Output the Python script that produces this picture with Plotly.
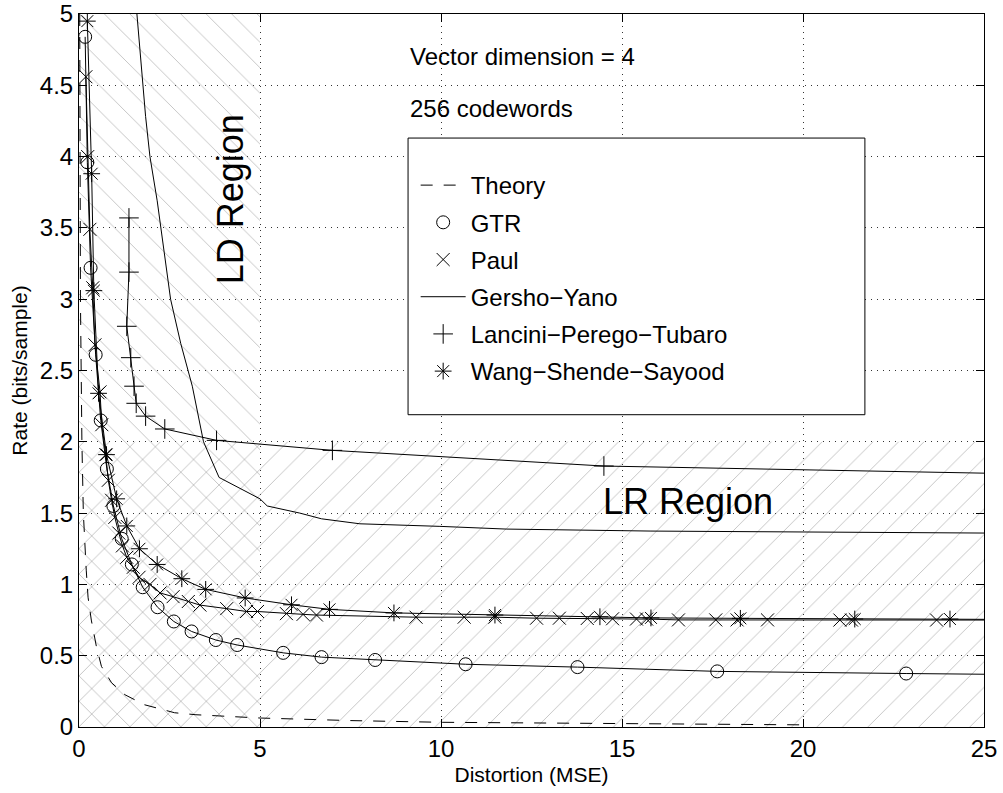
import plotly.graph_objects as go

# ---------------- data ----------------
theory_d = [0.02, 0.04, 0.08, 0.12, 0.20, 0.25, 0.34, 0.48, 0.62, 0.90, 1.27, 1.81, 2.64, 3.23, 5.0, 7.5, 10.0, 15.0, 20.0]
theory_r = [5.0, 3.0, 2.0, 1.5, 1.1, 0.91, 0.75, 0.565, 0.425, 0.31, 0.226, 0.156, 0.10, 0.086, 0.063, 0.045, 0.033, 0.022, 0.015]

gtr_d = [0.17, 0.23, 0.32, 0.46, 0.60, 0.77, 0.95, 1.18, 1.46, 1.76, 2.17, 2.62, 3.11, 3.78, 4.37, 5.64, 6.70, 8.18, 10.68, 13.77, 17.63, 22.85]
gtr_r = [4.84, 3.96, 3.22, 2.61, 2.15, 1.81, 1.55, 1.32, 1.14, 0.98, 0.84, 0.74, 0.67, 0.61, 0.575, 0.52, 0.49, 0.47, 0.44, 0.42, 0.39, 0.375]
gtr_line_end = (25.0, 0.37)

paul_d = [0.19, 0.24, 0.30, 0.38, 0.44, 0.58, 0.63, 0.74, 0.81, 0.90, 0.99, 1.10, 1.20, 1.32, 1.50, 1.66, 1.96, 2.24, 2.60, 3.02, 3.34, 4.08, 4.63, 4.93, 5.73, 6.19, 6.56, 9.31, 10.64, 11.49, 12.64, 13.27, 14.04, 14.74, 15.40, 15.68, 16.56, 17.59, 18.18, 19.02, 21.02, 21.34, 23.69]
paul_r = [4.56, 4.00, 3.49, 3.08, 2.68, 2.35, 2.12, 1.91, 1.73, 1.59, 1.47, 1.36, 1.27, 1.19, 1.12, 1.05, 1.00, 0.94, 0.914, 0.88, 0.855, 0.83, 0.81, 0.81, 0.795, 0.79, 0.785, 0.77, 0.77, 0.77, 0.763, 0.763, 0.761, 0.759, 0.757, 0.757, 0.751, 0.751, 0.751, 0.751, 0.750, 0.750, 0.750]
paul_line_end = (25.0, 0.75)

gy_d = [1.60, 1.84, 1.96, 2.16, 2.53, 2.81, 3.13, 3.44, 3.87, 5.0, 5.2, 6.1, 6.7, 7.76, 9.97, 11.8, 15.8, 25.0]
gy_r = [5.0, 4.28, 4.0, 3.69, 3.0, 2.69, 2.39, 2.0, 1.75, 1.60, 1.55, 1.50, 1.46, 1.425, 1.407, 1.388, 1.374, 1.36]

lpt_d = [1.38, 1.38, 1.32, 1.43, 1.52, 1.58, 1.84, 2.37, 3.80, 7.0, 14.5]
lpt_r = [3.57, 3.19, 2.81, 2.59, 2.39, 2.27, 2.18, 2.09, 2.01, 1.94, 1.83]
lpt_line_end = (25.0, 1.78)

wss_d = [0.23, 0.35, 0.41, 0.54, 0.76, 1.04, 1.32, 1.67, 2.16, 2.84, 3.50, 4.59, 5.87, 6.92, 8.70, 11.49, 14.39, 15.80, 18.27, 21.43, 24.06]
wss_r = [4.95, 3.88, 3.06, 2.34, 1.91, 1.60, 1.41, 1.25, 1.14, 1.04, 0.965, 0.905, 0.857, 0.825, 0.80, 0.785, 0.773, 0.765, 0.762, 0.757, 0.757]
wss_line_end = (25.0, 0.755)

# region boundaries
LD_DISTORTION_MAX = 5.0
LR_RATE_MAX = 2.0
X_MAX = 25.0
Y_MAX = 5.0

x_ticks = [0, 5, 10, 15, 20, 25]
y_ticks = [0, 0.5, 1, 1.5, 2, 2.5, 3, 3.5, 4, 4.5, 5]
y_tick_text = ["0", "0.5", "1", "1.5", "2", "2.5", "3", "3.5", "4", "4.5", "5"]

FONT = "Liberation Sans, Arial, Helvetica, sans-serif"
HATCH = "#808080"
HATCH_SIZE = 18.0

fig = go.Figure()

# hatched regions
fig.add_trace(go.Scatter(
    x=[0, LD_DISTORTION_MAX, LD_DISTORTION_MAX, 0, 0],
    y=[0, 0, Y_MAX, Y_MAX, 0],
    mode="none", fill="toself", fillcolor="rgba(0,0,0,0)",
    fillpattern=dict(shape="\\", size=HATCH_SIZE, solidity=0.05, fgcolor=HATCH,
                     bgcolor="rgba(0,0,0,0)"),
    showlegend=False, hoverinfo="skip"))
fig.add_trace(go.Scatter(
    x=[0, X_MAX, X_MAX, 0, 0],
    y=[0, 0, LR_RATE_MAX, LR_RATE_MAX, 0],
    mode="none", fill="toself", fillcolor="rgba(0,0,0,0)",
    fillpattern=dict(shape="/", size=HATCH_SIZE, solidity=0.05, fgcolor=HATCH,
                     bgcolor="rgba(0,0,0,0)"),
    showlegend=False, hoverinfo="skip"))

LINE = dict(color="black", width=1)

# connecting lines (no legend)
fig.add_trace(go.Scatter(x=gtr_d + [gtr_line_end[0]], y=gtr_r + [gtr_line_end[1]],
                         mode="lines", line=LINE, showlegend=False, hoverinfo="skip"))
fig.add_trace(go.Scatter(x=paul_d + [paul_line_end[0]], y=paul_r + [paul_line_end[1]],
                         mode="lines", line=LINE, showlegend=False, hoverinfo="skip"))
fig.add_trace(go.Scatter(x=lpt_d + [lpt_line_end[0]], y=lpt_r + [lpt_line_end[1]],
                         mode="lines", line=LINE, showlegend=False, hoverinfo="skip"))
fig.add_trace(go.Scatter(x=wss_d + [wss_line_end[0]], y=wss_r + [wss_line_end[1]],
                         mode="lines", line=LINE, showlegend=False, hoverinfo="skip"))

# legend-bearing traces
fig.add_trace(go.Scatter(x=theory_d, y=theory_r, mode="lines", name="Theory",
                         line=dict(color="black", width=1, dash="12px,11px"),
                         legendgroup="a"))
fig.add_trace(go.Scatter(x=gtr_d, y=gtr_r, mode="markers", name="GTR",
                         marker=dict(symbol="circle-open", size=13, color="black",
                                     line=dict(width=1, color="black")),
                         legendgroup="b"))
fig.add_trace(go.Scatter(x=paul_d, y=paul_r, mode="markers", name="Paul",
                         marker=dict(symbol="x-thin-open", size=13, color="black",
                                     line=dict(width=1, color="black")),
                         legendgroup="c"))
fig.add_trace(go.Scatter(x=gy_d, y=gy_r, mode="lines", name="Gersho−Yano",
                         line=LINE, legendgroup="d"))
fig.add_trace(go.Scatter(x=lpt_d, y=lpt_r, mode="markers", name="Lancini−Perego−Tubaro",
                         marker=dict(symbol="cross-thin-open", size=14, color="black",
                                     line=dict(width=1, color="black")),
                         legendgroup="e"))
fig.add_trace(go.Scatter(x=wss_d, y=wss_r, mode="markers", name="Wang−Shende−Sayood",
                         marker=dict(symbol="asterisk-open", size=14, color="black",
                                     line=dict(width=1, color="black")),
                         legendgroup="f"))

# white legend box
fig.add_shape(type="rect", xref="x", yref="y", x0=9.09, x1=21.71, y0=2.19, y1=4.13,
              fillcolor="white", line=dict(color="black", width=1), layer="above")

ann_font = dict(family=FONT, size=24, color="black")
fig.add_annotation(x=9.09, y=4.70, xref="x", yref="y", text="Vector dimension = 4",
                   showarrow=False, xanchor="left", yanchor="middle", font=ann_font)
fig.add_annotation(x=9.09, y=4.34, xref="x", yref="y", text="256 codewords",
                   showarrow=False, xanchor="left", yanchor="middle", font=ann_font)
fig.add_annotation(x=4.17, y=3.70, xref="x", yref="y", text="LD Region", textangle=-90,
                   showarrow=False, font=dict(family=FONT, size=36, color="black"))
fig.add_annotation(x=16.82, y=1.58, xref="x", yref="y", text="LR Region",
                   showarrow=False, font=dict(family=FONT, size=36, color="black"))

axis_common = dict(
    showline=True, linecolor="black", linewidth=1, mirror="ticks",
    ticks="inside", ticklen=8, tickwidth=1, tickcolor="black",
    showgrid=True, gridcolor="#333", gridwidth=1, griddash="1px,5px",
    zeroline=False, automargin=False,
    tickfont=dict(family=FONT, size=24, color="black"),
)

fig.update_layout(
    width=1003, height=793,
    margin=dict(l=79, r=19, t=14, b=66),
    paper_bgcolor="white", plot_bgcolor="white",
    font=dict(family=FONT, size=24, color="black"),
    xaxis=dict(range=[0, X_MAX], tickvals=x_ticks,
               title=dict(text="Distortion (MSE)", font=dict(family=FONT, size=21), standoff=6),
               **axis_common),
    yaxis=dict(range=[0, Y_MAX], tickvals=y_ticks, ticktext=y_tick_text,
               title=dict(text="Rate (bits/sample)", font=dict(family=FONT, size=21), standoff=6),
               **axis_common),
    legend=dict(x=0.372, y=0.791, xanchor="left", yanchor="top",
                bgcolor="rgba(0,0,0,0)", borderwidth=0,
                font=dict(family=FONT, size=24, color="black"),
                itemwidth=45, tracegroupgap=3, traceorder="grouped"),
)

fig.write_html("out.html")
